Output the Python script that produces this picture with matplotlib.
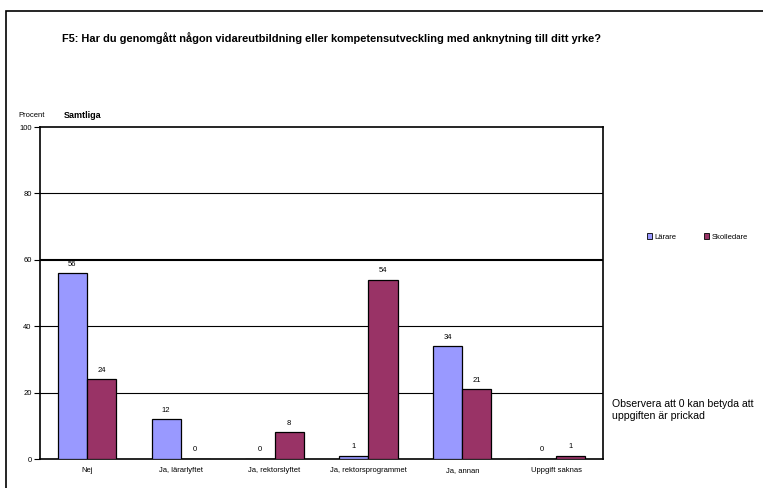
import matplotlib
matplotlib.use("Agg")
import matplotlib.pyplot as plt
import numpy as np
from matplotlib.patches import Rectangle, Patch

plt.rcParams['font.family'] = ['Liberation Sans', 'DejaVu Sans']

categories = ["Nej", "Ja, lärarlyftet", "Ja, rektorslyftet", "Ja, rektorsprogrammet", "Ja, annan", "Uppgift saknas"]
larare = [56, 12, 0, 1, 34, 0]
skolledare = [24, 0, 8, 54, 21, 1]
series_names = ["Lärare", "Skolledare"]
colors = ["#9999FF", "#993366"]

W, H = 763, 488
fig = plt.figure(figsize=(W / 100, H / 100), dpi=100)

# outer frame
fig.patches.append(Rectangle((6 / W, -0.2), 1.2, (H - 11) / H + 0.2, transform=fig.transFigure,
                             fill=False, edgecolor="black", linewidth=1.2))

ax = fig.add_axes([40 / W, (H - 459) / H, 563 / W, 332 / H])
x = np.arange(len(categories))
bw = 0.31
b1 = ax.bar(x - bw / 2, larare, bw, color=colors[0], edgecolor="black", linewidth=0.9, zorder=3)
b2 = ax.bar(x + bw / 2, skolledare, bw, color=colors[1], edgecolor="black", linewidth=0.9, zorder=3)
for bars, vals in ((b1, larare), (b2, skolledare)):
    for rect, v in zip(bars, vals):
        ax.annotate(str(v), (rect.get_x() + rect.get_width() / 2, v), xytext=(0, 4),
                    textcoords="offset points", ha="center", va="bottom", fontsize=5.5)

ax.set_xlim(-0.5, len(categories) - 0.5)
ax.set_ylim(0, 100)
ax.set_yticks([0, 20, 40, 60, 80, 100])
ax.set_xticks(x)
ax.set_xticklabels(categories, fontsize=5.5)
ax.tick_params(axis="y", labelsize=5.5, length=4, width=0.8, pad=2)
ax.tick_params(axis="x", length=0, pad=6)
for y in (20, 40, 80):
    ax.axhline(y, color="black", linewidth=0.8, zorder=1)
ax.axhline(60, color="black", linewidth=1.5, zorder=1)
for s in ax.spines.values():
    s.set_linewidth(1.2)

fig.text(62 / W, 1 - 38 / H, "F5: Har du genomgått någon vidareutbildning eller kompetensutveckling med anknytning till ditt yrke?",
         fontsize=7.9, fontweight="bold", va="center", ha="left")
fig.text(18 / W, 1 - 116 / H, "Procent", fontsize=5.5, va="center", ha="left")
fig.text(64 / W, 1 - 116 / H, "Samtliga", fontsize=6.5, fontweight="bold", va="center", ha="left")

handles = [Patch(facecolor=c, edgecolor="black", linewidth=0.6) for c in colors]
fig.legend(handles, series_names, loc="center left", bbox_to_anchor=(640 / W, 1 - 237 / H),
           ncol=2, frameon=False, fontsize=5.5, handlelength=0.7, handleheight=0.7,
           handletextpad=0.3, columnspacing=3.6)

fig.text(612 / W, 1 - 410 / H, "Observera att 0 kan betyda att\nuppgiften är prickad",
         fontsize=7.6, va="center", ha="left", linespacing=1.15)

fig.savefig("out.png", dpi=100)
